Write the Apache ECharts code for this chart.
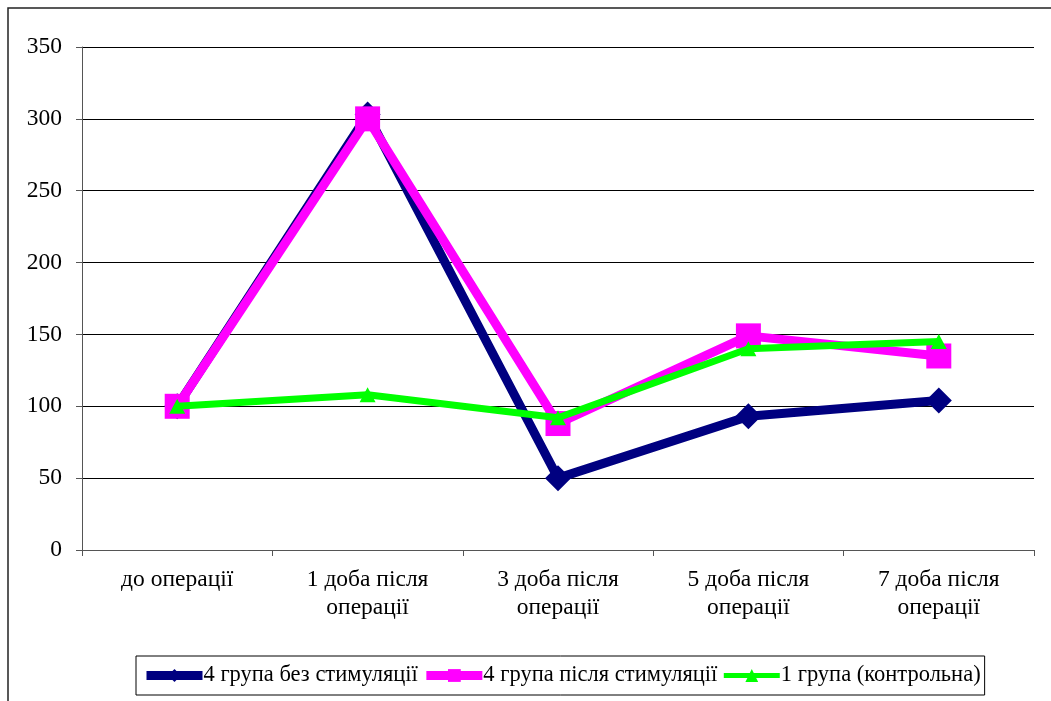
<!DOCTYPE html>
<html>
<head>
<meta charset="utf-8">
<script src="https://cdn.jsdelivr.net/npm/echarts@6/dist/echarts.min.js"></script>
<style>
  html, body { margin: 0; padding: 0; background: #fff; }
  #chart { width: 1051px; height: 701px; }
</style>
</head>
<body>
<div id="chart"></div>
<script>
// Time points of the observation
const categories = ['до операції', '1 доба після операції', '3 доба після операції', '5 доба після операції', '7 доба після операції'];
// Series values
const group4NoStim = [100, 303, 50, 93, 104];
const group4AfterStim = [100, 300, 88, 149, 135];
const group1Control = [100, 108, 92, 140, 145];
// Value-axis ticks
const yMin = 0, yMax = 350, yStep = 50;

const FONT = '"Liberation Serif", "Times New Roman", serif';

const chart = echarts.init(document.getElementById('chart'), null, { renderer: 'canvas' });

chart.setOption({
  animation: false,
  backgroundColor: '#fff',
  textStyle: { fontFamily: FONT, color: '#000' },
  graphic: [{
    type: 'rect',
    shape: { x: 8, y: 8, width: 1200, height: 1000 },
    style: { fill: 'none', stroke: '#222', lineWidth: 1.5 },
    silent: true
  }],
  grid: { left: 82, right: 17, top: 47, bottom: 151, containLabel: false },
  legend: {
    left: 136, top: 656,
    padding: [8, 4, 8, 6],
    borderColor: '#000', borderWidth: 1,
    itemWidth: 56, itemHeight: 16, itemGap: 4,
    lineStyle: { width: 9 },
    textStyle: { fontFamily: FONT, fontSize: 22.5, color: '#000', padding: [0, 0, 0, -4] },
    data: [
      { name: '4 група без стимуляції' },
      { name: '4 група після стимуляції' },
      { name: '1 група (контрольна)', lineStyle: { width: 5 } }
    ]
  },
  xAxis: {
    type: 'category',
    data: categories,
    boundaryGap: true,
    axisLine: { lineStyle: { color: '#555', width: 1 } },
    axisTick: { show: true, length: 6, lineStyle: { color: '#555' } },
    axisLabel: {
      margin: 16, fontFamily: FONT, fontSize: 23.5, color: '#000', lineHeight: 28,
      interval: 0,
      formatter: v => v.replace('після ', 'після\n')
    },
    splitLine: { show: false }
  },
  yAxis: {
    type: 'value',
    min: yMin, max: yMax, interval: yStep,
    axisLine: { show: true, lineStyle: { color: '#555', width: 1 } },
    axisTick: { show: true, length: 6, lineStyle: { color: '#555' } },
    axisLabel: { margin: 20, fontFamily: FONT, fontSize: 23.5, color: '#000' },
    splitLine: { show: true, lineStyle: { color: '#000', width: 1 } }
  },
  series: [
    {
      name: '4 група без стимуляції', type: 'line', data: group4NoStim,
      symbol: 'diamond', symbolSize: 26,
      lineStyle: { color: '#000080', width: 9 },
      itemStyle: { color: '#000080' },
      z: 2
    },
    {
      name: '4 група після стимуляції', type: 'line', data: group4AfterStim,
      symbol: 'rect', symbolSize: 25,
      lineStyle: { color: '#FF00FF', width: 9 },
      itemStyle: { color: '#FF00FF' },
      z: 3
    },
    {
      name: '1 група (контрольна)', type: 'line', data: group1Control,
      symbol: 'triangle', symbolSize: [16, 15],
      lineStyle: { color: '#00FF00', width: 7 },
      itemStyle: { color: '#00FF00' },
      z: 4
    }
  ]
});
</script>
</body>
</html>
